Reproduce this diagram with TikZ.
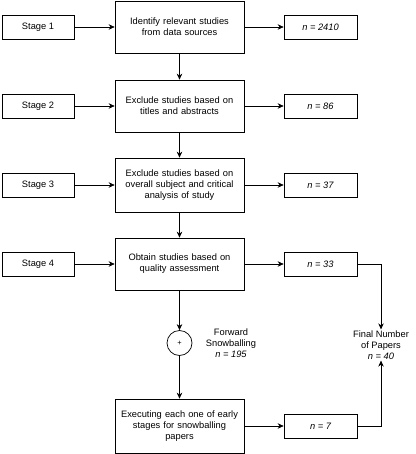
\documentclass[tikz,border=0pt]{standalone}
\usepackage{fontspec}
\setmainfont{Liberation Sans}
\usetikzlibrary{arrows.meta}
\begin{document}
\begin{tikzpicture}[x=1pt,y=-1pt,
  every node/.style={font=\fontsize{9.3}{11}\selectfont},
  box/.style={draw,line width=0.7pt,align=center,inner sep=0pt},
  stagebox/.style={box,minimum width=72pt,minimum height=24pt},
  mainbox/.style={box,minimum width=129pt,minimum height=52pt,text width=125pt},
  nbox/.style={box,minimum width=73pt,minimum height=24pt,font=\fontsize{9.3}{11}\selectfont\itshape},
  arr/.style={line width=0.7pt,-{Stealth[length=6pt,width=5.5pt]}},
  txt/.style={align=center,inner sep=1pt}]
\useasboundingbox (0,0) rectangle (415,454);
\node[stagebox] (s1) at (38,27) {Stage 1};
\node[stagebox] (s2) at (38,106) {Stage 2};
\node[stagebox] (s3) at (38,185) {Stage 3};
\node[stagebox] (s4) at (38,264) {Stage 4};
\node[mainbox] (m1) at (179.5,27) {Identify relevant studies\\from data sources};
\node[mainbox] (m2) at (179.5,106) {Exclude studies based on\\titles and abstracts};
\node[mainbox,minimum height=54pt] (m3) at (179.5,185) {Exclude studies based on\\overall subject and critical\\analysis of study};
\node[mainbox] (m4) at (179.5,264) {Obtain studies based on\\quality assessment};
\node[mainbox,minimum height=54pt] (m5) at (179.5,426) {Executing each one of early\\stages for snowballing\\papers};
\node[nbox] (n1) at (320.5,27) {n = 2410};
\node[nbox] (n2) at (320.5,106) {n = 86};
\node[nbox] (n3) at (320.5,185) {n = 37};
\node[nbox] (n4) at (320.5,264) {n = 33};
\node[nbox] (n5) at (320.5,426) {n = 7};
\node[draw,circle,line width=0.7pt,minimum size=25pt,inner sep=0pt,font=\fontsize{7.5}{8}\selectfont] (c) at (179.5,343) {+};
\node[txt] (fs) at (231,343) {Forward\\Snowballing\\\textit{n = 195}};
\node[txt] (fin) at (381,345) {Final Number\\of Papers\\\textit{n = 40}};
\foreach \i in {1,...,4} {
  \draw[arr] (s\i) -- (m\i);
  \draw[arr] (m\i) -- (n\i);
}
\draw[arr] (m5) -- (n5);
\draw[arr] (m1) -- (m2);
\draw[arr] (m2) -- (m3);
\draw[arr] (m3) -- (m4);
\draw[arr] (m4) -- (c);
\draw[arr] (c) -- (m5);
\draw[arr] (n4.east) -| (fin.north);
\draw[arr] (n5.east) -| (fin.south);
\end{tikzpicture}
\end{document}
